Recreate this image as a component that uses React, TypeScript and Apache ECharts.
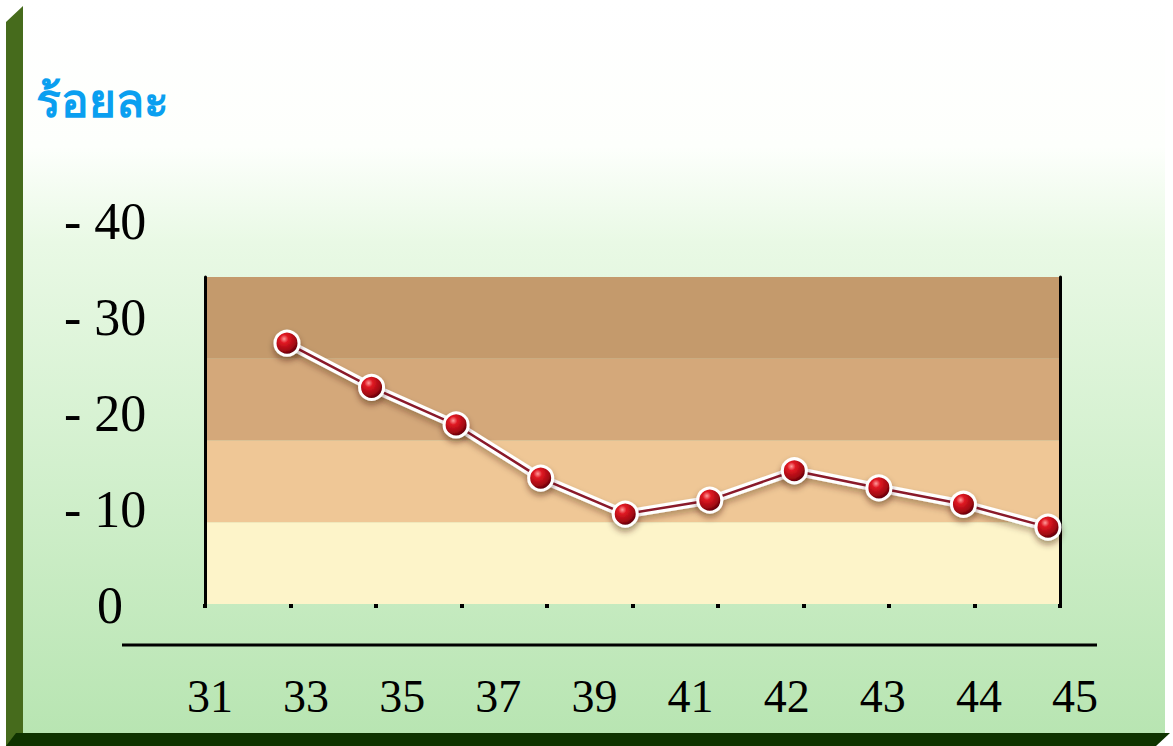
import React, { useEffect, useRef } from "react";
import * as echarts from "echarts";

const years = ["31", "33", "35", "37", "39", "41", "42", "43", "44", "45"];
const percent = [31.9, 26.5, 21.9, 15.4, 11.0, 12.7, 16.3, 14.2, 12.2, 9.4];
const yLabelValues = [0, 10, 20, 30, 40];
const bandColors = ["#fdf4c9", "#efc796", "#d4a87a", "#c49a6c"];
const titleText = "ร้อยละ";

const serif = "'Liberation Serif', 'Times New Roman', serif";

export default function App() {
  const ref = useRef<HTMLDivElement>(null);
  useEffect(() => {
    if (!ref.current) return;
    const chart = echarts.init(ref.current, null, { renderer: "svg" });
    const markerFill = new echarts.graphic.RadialGradient(0.38, 0.32, 0.7, [
      { offset: 0, color: "#ff9a9a" },
      { offset: 0.25, color: "#e01822" },
      { offset: 0.7, color: "#a00812" },
      { offset: 1, color: "#480006" },
    ]);
    chart.setOption({
      animation: false,
      title: {
        text: titleText,
        left: 31,
        top: 71,
        textStyle: {
          color: "#0a9ff0",
          fontSize: 46,
          fontWeight: "bold",
          fontFamily: "'Noto Sans', sans-serif",
        },
      },
      graphic: [
        {
          type: "rect",
          z: -10,
          shape: { x: 23, y: 0, width: 1142, height: 733 },
          style: {
            fill: new echarts.graphic.LinearGradient(0, 0, 0, 1, [
              { offset: 0, color: "#ffffff" },
              { offset: 0.2, color: "#fdfffc" },
              { offset: 0.33, color: "#e9f9e5" },
              { offset: 1, color: "#b8e5b2" },
            ]),
          },
        },
        {
          type: "polygon",
          z: -5,
          shape: { points: [[6, 22], [23, 6], [23, 746], [6, 746]] },
          style: { fill: "#466b1c" },
        },
        {
          type: "polygon",
          z: -5,
          shape: { points: [[16, 733], [1170, 733], [1156, 746], [6, 746]] },
          style: { fill: "#0f3300" },
        },
        {
          type: "line",
          shape: { x1: 122, y1: 645, x2: 1097, y2: 645 },
          style: { stroke: "#000", lineWidth: 3 },
        },
      ],
      grid: [
        { left: 205, right: 113, top: 277, bottom: 142 },
        { left: 210, right: 98, top: 221, bottom: 141 },
        { left: 287, right: 125, top: 277, bottom: 142 },
      ],
      xAxis: [
        {
          gridIndex: 0,
          type: "category",
          data: years,
          boundaryGap: true,
          axisLine: { show: false },
          axisTick: { show: true, length: 4, lineStyle: { color: "#000", width: 4 } },
          axisLabel: { show: false },
        },
        {
          gridIndex: 1,
          type: "category",
          data: years,
          boundaryGap: false,
          axisLine: { show: false },
          axisTick: { show: false },
          axisLabel: {
            margin: 68,
            color: "#000",
            fontSize: 46,
            fontFamily: serif,
            interval: 0,
          },
        },
        {
          gridIndex: 2,
          type: "category",
          data: years,
          boundaryGap: false,
          show: false,
        },
      ],
      yAxis: [
        {
          gridIndex: 0,
          type: "value",
          min: 0,
          max: 40,
          interval: 10,
          axisLine: { show: true, lineStyle: { color: "#000", width: 3 } },
          axisTick: { show: false },
          axisLabel: { show: false },
          splitLine: { show: false },
          splitArea: { show: true, areaStyle: { color: bandColors, opacity: 1 } },
        },
        {
          gridIndex: 0,
          type: "value",
          position: "right",
          min: 0,
          max: 40,
          interval: 10,
          axisLine: { show: true, lineStyle: { color: "#000", width: 3 } },
          axisTick: { show: false },
          axisLabel: { show: false },
          splitLine: { show: false },
        },
        {
          gridIndex: 1,
          type: "value",
          min: 0,
          max: 40,
          interval: 10,
          axisLine: { show: false },
          axisTick: { show: false },
          splitLine: { show: false },
          axisLabel: {
            align: "left",
            margin: 146,
            color: "#000",
            fontSize: 52,
            fontFamily: serif,
            formatter: (v: number) =>
              yLabelValues.includes(v) ? (v === 0 ? "{z|0}" : "- " + v) : "",
            rich: {
              z: {
                padding: [0, 0, 0, 33],
                fontSize: 52,
                fontFamily: serif,
                color: "#000",
              },
            },
          },
        },
        {
          gridIndex: 2,
          type: "value",
          min: 0,
          max: 40,
          interval: 10,
          show: false,
        },
      ],
      series: [
        {
          type: "line",
          xAxisIndex: 2,
          yAxisIndex: 3,
          data: percent,
          symbol: "none",
          z: 3,
          lineStyle: {
            color: "#ffffff",
            width: 9,
            shadowColor: "rgba(60,30,10,0.35)",
            shadowBlur: 6,
            shadowOffsetY: 4,
          },
        },
        {
          type: "line",
          xAxisIndex: 2,
          yAxisIndex: 3,
          data: percent,
          z: 4,
          symbol: "circle",
          symbolSize: 24,
          lineStyle: { color: "#8a1a2a", width: 2.5 },
          itemStyle: {
            color: markerFill,
            borderColor: "#ffffff",
            borderWidth: 3,
            shadowColor: "rgba(60,30,10,0.45)",
            shadowBlur: 6,
            shadowOffsetY: 4,
          },
        },
      ],
    });
    return () => chart.dispose();
  }, []);
  return (
    <div
      ref={ref}
      style={{ position: "absolute", left: 0, top: 0, width: 1173, height: 746 }}
    />
  );
}
